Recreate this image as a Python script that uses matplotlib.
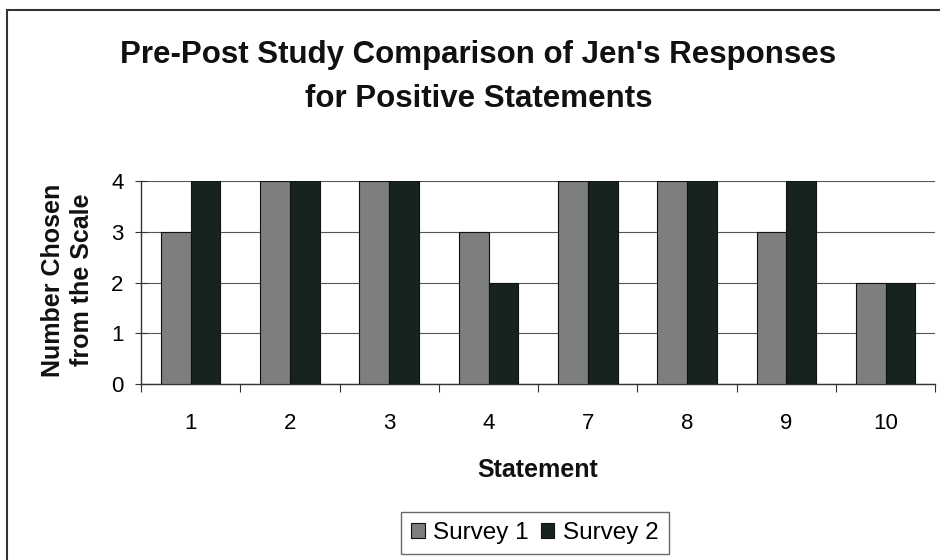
import numpy as np
import matplotlib.pyplot as plt
from matplotlib.patches import Rectangle

plt.rcParams['font.family'] = ['Liberation Sans', 'DejaVu Sans']

# dane z wykresu
statements = ['1', '2', '3', '4', '7', '8', '9', '10']
survey1 = [3, 4, 4, 3, 4, 4, 3, 2]
survey2 = [4, 4, 4, 2, 4, 4, 4, 2]

fig = plt.figure(figsize=(9.4, 5.6), dpi=100)
ax = fig.add_axes([0.15, 0.314, 0.845, 0.363])

x = np.arange(len(statements))
w = 0.3
ax.bar(x - w / 2, survey1, w, color='#7c7f7c', edgecolor='#111111', linewidth=0.8,
       label='Survey 1', zorder=3)
ax.bar(x + w / 2, survey2, w, color='#17241d', edgecolor='#111111', linewidth=0.8,
       label='Survey 2', zorder=3)

ax.set_xlim(-0.5, len(statements) - 0.5)
ax.set_ylim(0, 4)
ax.set_yticks([0, 1, 2, 3, 4])
ax.yaxis.grid(True, color='#555555', linewidth=0.8, zorder=0)

# kreski na granicach kategorii
ax.set_xticks(np.arange(len(statements) + 1) - 0.5)
ax.set_xticklabels([])
ax.set_xticks(x, minor=True)
ax.set_xticklabels(statements, minor=True)
ax.tick_params(axis='x', which='minor', length=0, pad=21, labelsize=16)
ax.tick_params(axis='x', which='major', length=6, color='#333333')
ax.tick_params(axis='y', length=9, direction='inout', labelsize=16, pad=8, color='#333333')

for s in ['top', 'right']:
    ax.spines[s].set_visible(False)
for s in ['left', 'bottom']:
    ax.spines[s].set_color('#333333')
    ax.spines[s].set_linewidth(1.0)

fig.text(0.572, 0.161, 'Statement', ha='center', va='center', fontsize=18,
         fontweight='bold', color='#111111')
fig.text(0.072, 0.5, 'Number Chosen\nfrom the Scale', ha='center', va='center',
         rotation=90, fontsize=18, fontweight='bold', linespacing=1.25, color='#111111')

fig.text(0.509, 0.862, "Pre-Post Study Comparison of Jen's Responses\nfor Positive Statements",
         ha='center', va='center', fontsize=22.5, fontweight='bold', linespacing=1.6,
         color='#111111')

leg = fig.legend(loc='center', bbox_to_anchor=(0.569, 0.0482), ncol=2, fontsize=17.5,
                 frameon=True, fancybox=False, edgecolor='#444444',
                 handlelength=0.55, handleheight=0.55, handletextpad=0.35,
                 columnspacing=0.5, borderpad=0.42)
leg.get_frame().set_linewidth(1.0)

# ramka wykresu
fig.patches.append(Rectangle((0.007, -0.02), 1.2, 1.0025, transform=fig.transFigure,
                             fill=False, edgecolor='#333333', linewidth=1.5))

fig.savefig('out.png', dpi=100)
